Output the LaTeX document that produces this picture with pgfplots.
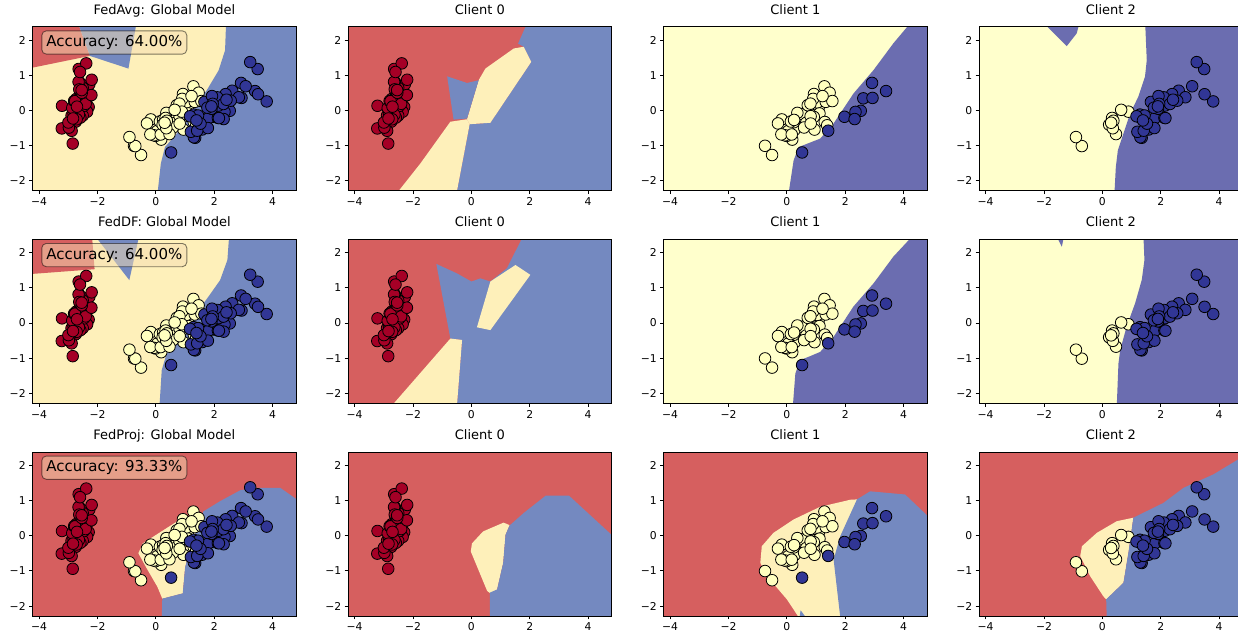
\documentclass[border=0pt]{standalone}
\usepackage{fontspec}
\setmainfont{DejaVu Sans}
\usepackage{pgfplots}
\usepackage{pgfplotstable}
\pgfplotsset{compat=1.18}

\definecolor{cR}{RGB}{214,95,95}
\definecolor{cY}{RGB}{254,240,186}
\definecolor{cB}{RGB}{116,137,192}
\definecolor{cYt}{RGB}{255,255,204}
\definecolor{cBt}{RGB}{107,109,176}
\definecolor{ptR}{RGB}{165,0,38}
\definecolor{ptY}{RGB}{255,255,191}
\definecolor{ptB}{RGB}{49,54,149}
\definecolor{wheat}{RGB}{245,222,179}

\pgfplotstableread{
x y
-2.684 0.319
-2.714 -0.177
-2.889 -0.145
-2.745 -0.318
-2.729 0.327
-2.281 0.741
-2.821 -0.089
-2.626 0.163
-2.886 -0.578
-2.673 -0.114
-2.507 0.645
-2.613 0.015
-2.786 -0.235
-3.224 -0.511
-2.645 1.179
-2.386 1.338
-2.624 0.811
-2.648 0.312
-2.200 0.873
-2.588 0.514
-2.310 0.391
-2.544 0.433
-3.216 0.133
-2.303 0.099
-2.356 -0.037
-2.507 -0.146
-2.469 0.131
-2.562 0.368
-2.640 0.312
-2.632 -0.197
-2.587 -0.204
-2.410 0.411
-2.649 0.813
-2.599 1.093
-2.637 -0.121
-2.866 0.069
-2.625 0.599
-2.801 0.269
-2.981 -0.488
-2.590 0.229
-2.770 0.264
-2.849 -0.941
-2.997 -0.342
-2.406 0.189
-2.209 0.437
-2.714 -0.250
-2.538 0.504
-2.839 -0.228
-2.543 0.579
-2.703 0.108
}\setosa

\pgfplotstableread{
x y
1.285 0.685
0.932 0.318
1.464 0.504
0.183 -0.828
1.088 0.075
0.642 -0.418
1.095 0.283
-0.749 -1.005
1.044 0.228
-0.009 -0.723
-0.508 -1.266
0.512 -0.104
0.265 -0.550
0.985 -0.125
-0.174 -0.255
0.928 0.467
0.660 -0.353
0.236 -0.334
0.945 -0.543
0.045 -0.584
1.116 -0.085
0.358 -0.069
1.298 -0.328
0.922 -0.183
0.715 0.149
0.900 0.329
1.332 0.244
1.558 0.267
0.813 -0.163
-0.306 -0.368
-0.068 -0.705
-0.190 -0.680
0.136 -0.314
1.380 -0.421
0.588 -0.484
0.807 0.194
1.221 0.408
0.815 -0.372
0.246 -0.269
0.166 -0.682
}\versiA

\pgfplotstableread{
x y
0.465 -0.671
0.891 -0.034
0.231 -0.404
-0.705 -1.012
0.357 -0.505
0.332 -0.213
0.376 -0.293
0.643 0.018
-0.906 -0.756
0.299 -0.349
}\versiB

\pgfplotstableread{
x y
2.531 -0.010
1.415 -0.575
2.617 0.344
1.972 -0.180
2.350 -0.040
3.397 0.551
0.521 -1.193
2.933 0.356
2.321 -0.244
2.917 0.783
}\virgA

\pgfplotstableread{
x y
1.662 0.242
1.803 -0.216
2.166 0.216
1.346 -0.777
1.586 -0.540
1.904 0.119
1.950 0.042
3.487 1.176
3.796 0.257
1.301 -0.761
2.428 0.378
1.199 -0.606
3.500 0.461
1.389 -0.204
2.275 0.335
2.614 0.561
1.259 -0.180
1.291 -0.117
2.124 -0.210
2.388 0.465
2.842 0.375
3.231 1.374
2.159 -0.217
1.444 -0.143
1.781 -0.500
3.076 0.688
2.144 0.140
1.905 0.049
1.169 -0.165
2.108 0.372
2.314 0.184
1.922 0.409
1.415 -0.575
2.563 0.278
2.419 0.305
1.944 0.188
1.527 -0.375
1.764 0.079
1.901 0.117
1.390 -0.283
}\virgB

\pgfplotsset{
  panel/.style={
    scale only axis, width=263.3pt, height=164pt,
    anchor=south west,
    xmin=-4.22, xmax=4.80, ymin=-2.28, ymax=2.38,
    xtick={-4,-2,0,2,4}, xticklabels={−4,−2,0,2,4},
    ytick={-2,-1,0,1,2}, yticklabels={−2,−1,0,1,2},
    xtick pos=left, ytick pos=left,
    tick align=outside, major tick length=3.5pt,
    tick style={line width=0.8pt, black},
    axis line style={line width=0.8pt},
    tick label style={font=\fontsize{10.8}{12}\selectfont},
    title style={font=\fontsize{13}{15}\selectfont, at={(0.5,1)}, anchor=base, yshift=6.5pt, inner sep=0pt},
    axis on top,
  },
  pR/.style={only marks, mark=*, mark size=5.8pt, mark options={draw=black, line width=0.8pt, fill=ptR}},
  pY/.style={only marks, mark=*, mark size=5.8pt, mark options={draw=black, line width=0.8pt, fill=ptY}},
  pB/.style={only marks, mark=*, mark size=5.8pt, mark options={draw=black, line width=0.8pt, fill=ptB}},
}
\tikzset{
  accbox/.style={draw=black, draw opacity=0.5, fill=wheat, fill opacity=0.5, text opacity=1,
    rounded corners=4.5pt, line width=0.9pt, inner sep=4.5pt, anchor=north west,
    xshift=-4.5pt, yshift=4.5pt, font=\fontsize{15}{17}\selectfont},
}

\newcommand{\allpts}{%
  \addplot[pR] table {\setosa};
  \addplot[pY] table {\versiA};
  \addplot[pY] table {\versiB};
  \addplot[pB] table {\virgA};
  \addplot[pB] table {\virgB};
}

\begin{document}
\begin{tikzpicture}
\useasboundingbox (0,0) rectangle (1238pt,630pt);

% ---------------- Row 1 ----------------
\begin{axis}[panel, at={(32.7pt,439.3pt)}, title={FedAvg: Global Model}, axis background/.style={fill=cY}]
\addplot[fill=cR, draw=none] coordinates {(-4.5,2.6) (-2.72,2.6) (-2.26,1.55) (-4.5,1.17)} -- cycle;
\addplot[fill=cB, draw=none] coordinates {(-2.72,2.6) (-0.64,2.6) (-0.94,1.19) (-2.26,1.55)} -- cycle;
\addplot[fill=cB, draw=none] coordinates {(2.41,2.6) (2.37,1.71) (2.15,1.14) (1.74,0.57) (1.40,0.19) (1.06,-0.28) (0.66,-0.71) (0.31,-1.04) (0.17,-1.51) (0.05,-2.4) (5,-2.4) (5,2.6)} -- cycle;
\allpts
\node[accbox] at (rel axis cs:0.05,0.95) {Accuracy: 64.00\%};
\end{axis}

\begin{axis}[panel, at={(348.2pt,439.3pt)}, title={Client 0}, axis background/.style={fill=cR}]
\addplot[fill=cB, draw=none] coordinates {(1.97,2.6) (5,2.6) (5,-2.4) (-0.52,-2.4) (-0.06,-0.39) (0.65,-0.35) (2.05,1.38) (1.79,1.81) (1.6,1.9)} -- cycle;
\addplot[fill=cY, draw=none] coordinates {(-0.15,-0.25) (0.25,0.86) (0.48,1.19) (1.45,1.76) (1.79,1.81) (2.05,1.38) (0.65,-0.35) (-0.06,-0.39)} -- cycle;
\addplot[fill=cY, draw=none] coordinates {(-2.6,-2.4) (-1.75,-1.51) (-0.72,-0.32) (-0.15,-0.25) (-0.06,-0.39) (-0.52,-2.4)} -- cycle;
\addplot[fill=cB, draw=none] coordinates {(-0.83,0.97) (-0.15,0.78) (0.25,0.86) (-0.15,-0.23) (-0.61,-0.26)} -- cycle;
\addplot[pR] table {\setosa};
\end{axis}

\begin{axis}[panel, at={(663.7pt,439.3pt)}, title={Client 1}, axis background/.style={fill=cYt}]
\addplot[fill=cBt, draw=none] coordinates {(4.35,2.6) (3.65,1.91) (2.97,1.15) (2.28,0.48) (1.60,-0.37) (1.14,-0.80) (0.68,-0.95) (0.40,-1.04) (0.23,-1.42) (0.05,-2.4) (5,-2.4) (5,2.6)} -- cycle;
\addplot[pY] table {\versiA};
\addplot[pB] table {\virgA};
\end{axis}

\begin{axis}[panel, at={(979.2pt,439.3pt)}, title={Client 2}, axis background/.style={fill=cYt}]
\addplot[fill=cBt, draw=none] coordinates {(1.46,2.6) (1.52,1.43) (1.46,0.96) (1.23,0.39) (0.95,-0.09) (0.72,-0.66) (0.53,-1.13) (0.46,-1.61) (0.41,-2.4) (5,-2.4) (5,2.6)} -- cycle;
\addplot[fill=cBt, draw=none] coordinates {(-2.15,2.6) (-1.22,1.83) (-0.88,2.19) (-0.75,2.6)} -- cycle;
\addplot[pY] table {\versiB};
\addplot[pB] table {\virgB};
\end{axis}

% ---------------- Row 2 ----------------
\begin{axis}[panel, at={(32.7pt,226.7pt)}, title={FedDF: Global Model}, axis background/.style={fill=cY}]
\addplot[fill=cR, draw=none] coordinates {(-4.5,2.6) (-2.2,2.6) (-2.1,1.53) (-4.5,1.38)} -- cycle;
\addplot[fill=cB, draw=none] coordinates {(-2.2,2.6) (-0.54,2.6) (-0.91,1.22)} -- cycle;
\addplot[fill=cB, draw=none] coordinates {(2.52,2.6) (2.45,1.79) (2.20,1.22) (1.80,0.75) (1.46,0.37) (1.06,-0.10) (0.71,-0.58) (0.37,-0.86) (0.20,-1.34) (0.12,-2.4) (5,-2.4) (5,2.6)} -- cycle;
\allpts
\node[accbox] at (rel axis cs:0.05,0.95) {Accuracy: 64.00\%};
\end{axis}

\begin{axis}[panel, at={(348.2pt,226.7pt)}, title={Client 0}, axis background/.style={fill=cR}]
\addplot[fill=cB, draw=none] coordinates {(1.85,2.6) (5,2.6) (5,-2.4) (-0.50,-2.4) (-0.32,-0.48) (-0.72,-0.44) (-1.2,1.68) (-0.49,1.41) (0,1.18) (0.31,1.27) (0.65,1.18) (1.22,1.56)} -- cycle;
\addplot[fill=cY, draw=none] coordinates {(-2.78,-2.4) (-0.72,-0.44) (-0.32,-0.48) (-0.50,-2.4)} -- cycle;
\addplot[fill=cY, draw=none] coordinates {(0.65,1.18) (1.51,1.65) (2.02,1.37) (0.65,-0.20) (0.19,-0.12)} -- cycle;
\addplot[pR] table {\setosa};
\end{axis}

\begin{axis}[panel, at={(663.7pt,226.7pt)}, title={Client 1}, axis background/.style={fill=cYt}]
\addplot[fill=cBt, draw=none] coordinates {(4.42,2.6) (4.2,2.38) (3.65,1.89) (2.97,1.13) (2.28,0.47) (1.60,-0.39) (1.14,-0.82) (0.74,-0.96) (0.46,-1.05) (0.29,-1.43) (0.20,-2.4) (5,-2.4) (5,2.6)} -- cycle;
\addplot[pY] table {\versiA};
\addplot[pB] table {\virgA};
\end{axis}

\begin{axis}[panel, at={(979.2pt,226.7pt)}, title={Client 2}, axis background/.style={fill=cYt}]
\addplot[fill=cBt, draw=none] coordinates {(1.40,2.6) (1.44,1.79) (1.35,1.23) (1.12,0.56) (0.83,-0.10) (0.61,-0.77) (0.55,-1.15) (0.49,-2.4) (5,-2.4) (5,2.6)} -- cycle;
\addplot[fill=cBt, draw=none] coordinates {(-1.65,2.6) (-1.39,2.17) (-1.28,2.6)} -- cycle;
\addplot[pY] table {\versiB};
\addplot[pB] table {\virgB};
\end{axis}

% ---------------- Row 3 ----------------
\begin{axis}[panel, at={(32.7pt,14.1pt)}, title={FedProj: Global Model}, axis background/.style={fill=cR}]
\addplot[fill=cY, draw=none] coordinates {(1.50,0.55) (0.85,0.47) (-0.45,-0.22) (-0.60,-0.50) (-0.30,-0.95) (0.05,-1.45) (0.22,-1.79) (0.92,-1.64) (1.00,-0.91) (1.15,-0.39) (1.40,0.17)} -- cycle;
\addplot[fill=cB, draw=none] coordinates {(0.20,-2.4) (0.22,-1.79) (0.92,-1.64) (1.00,-0.91) (1.15,-0.39) (1.40,0.17) (1.63,0.69) (2.20,0.98) (2.89,1.29) (3.35,1.36) (4.26,1.36) (4.81,1.04) (5,1.0) (5,-2.4)} -- cycle;
\allpts
\node[accbox] at (rel axis cs:0.05,0.95) {Accuracy: 93.33\%};
\end{axis}

\begin{axis}[panel, at={(348.2pt,14.1pt)}, title={Client 0}, axis background/.style={fill=cR}]
\addplot[fill=cY, draw=none] coordinates {(1.31,0.30) (1.10,0.37) (0.40,0.12) (0.02,-0.22) (-0.02,-0.45) (0.54,-1.57) (0.65,-1.64) (0.88,-1.53) (1.09,-0.77) (1.17,0.03)} -- cycle;
\addplot[fill=cB, draw=none] coordinates {(0.63,-2.4) (0.63,-1.62) (0.88,-1.53) (1.09,-0.77) (1.17,0.03) (1.31,0.29) (1.80,0.65) (2.55,1.14) (3.34,1.14) (4.9,-0.05) (4.9,-2.4)} -- cycle;
\addplot[pR] table {\setosa};
\end{axis}

\begin{axis}[panel, at={(663.7pt,14.1pt)}, title={Client 1}, axis background/.style={fill=cR}]
\addplot[fill=cY, draw=none] coordinates {(2.4,1.03) (2.17,1.02) (1.14,0.82) (0.23,0.46) (-0.46,0.08) (-0.86,-0.30) (-0.91,-0.77) (-0.68,-1.15) (0,-1.81) (0.47,-2.4) (1.85,-2.4)} -- cycle;
\addplot[fill=cB, draw=none] coordinates {(1.84,-2.4) (1.60,-0.68) (1.83,-0.01) (2.40,1.03) (2.85,1.26) (4.05,1.17) (4.9,0.5) (4.9,-2.4)} -- cycle;
\addplot[fill=cB, draw=none] coordinates {(0.42,-2.4) (0.47,-2.12) (0.72,-2.4)} -- cycle;
\addplot[pY] table {\versiA};
\addplot[pB] table {\virgA};
\end{axis}

\begin{axis}[panel, at={(979.2pt,14.1pt)}, title={Client 2}, axis background/.style={fill=cR}]
\addplot[fill=cY, draw=none] coordinates {(-0.70,-0.30) (-0.76,-0.58) (-0.42,-1.15) (0.03,-1.72) (0.13,-1.81) (0.72,-1.34) (0.89,-0.49) (1.06,0.51) (0.49,0.41) (-0.19,0.08)} -- cycle;
\addplot[fill=cB, draw=none] coordinates {(0.15,-2.4) (0.13,-1.81) (0.72,-1.34) (0.89,-0.49) (1.06,0.51) (2.09,0.93) (2.78,1.36) (3.8,1.74) (4.64,2.16) (4.9,2.3) (4.9,-2.4)} -- cycle;
\addplot[pY] table {\versiB};
\addplot[pB] table {\virgB};
\end{axis}

\end{tikzpicture}
\end{document}
